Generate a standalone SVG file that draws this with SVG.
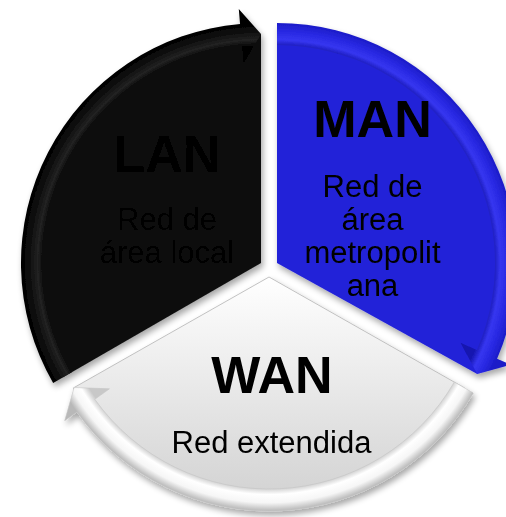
<svg xmlns="http://www.w3.org/2000/svg" width="506" height="517" viewBox="0 0 506 517">
<style>
.t{font-family:"Liberation Sans",Arial,sans-serif;text-anchor:middle;fill:#000}
.h{font-size:52px;font-weight:bold}
.b{font-size:31px}
</style>
<defs>
<filter id="sh" x="-10%" y="-10%" width="120%" height="120%">
<feGaussianBlur in="SourceAlpha" stdDeviation="3"/>
<feOffset dx="2" dy="4" result="o"/>
<feComponentTransfer><feFuncA type="linear" slope="0.35"/></feComponentTransfer>
<feMerge><feMergeNode/><feMergeNode in="SourceGraphic"/></feMerge>
</filter>
<radialGradient id="bandL" gradientUnits="userSpaceOnUse" cx="261" cy="263" r="240">
<stop offset="0.9" stop-color="#000"/><stop offset="0.93" stop-color="#222"/><stop offset="0.965" stop-color="#0e0e0e"/><stop offset="1" stop-color="#000"/>
</radialGradient>
<radialGradient id="bandM" gradientUnits="userSpaceOnUse" cx="277" cy="263" r="240">
<stop offset="0.9" stop-color="#1616b0"/><stop offset="0.93" stop-color="#3636f0"/><stop offset="0.965" stop-color="#2828e2"/><stop offset="1" stop-color="#1c1cc8"/>
</radialGradient>
<radialGradient id="bandW" gradientUnits="userSpaceOnUse" cx="269" cy="275" r="236">
<stop offset="0.9" stop-color="#c8c8c8"/><stop offset="0.93" stop-color="#ffffff"/><stop offset="0.965" stop-color="#f6f6f6"/><stop offset="1" stop-color="#b8b8b8"/>
</radialGradient>
<linearGradient id="pieW" x1="0" y1="0" x2="0" y2="1">
<stop offset="0" stop-color="#ffffff"/><stop offset="1" stop-color="#d2d2d2"/>
</linearGradient>
</defs>
<g id="connectors"></g>
<g id="lan" filter="url(#sh)">
<path d="M261,263 L62.68,377.5 A229,229 0 0 1 261,34 Z" fill="#0e0e0e"/>
<path d="M53.15,383 A240,240 0 0 1 240.08,23.91 L238.77,8.97 L261,34 L243.57,63.76 L242,45.83 A218,218 0 0 0 72.21,372 Z" fill="url(#bandL)"/>
<text class="t h" x="167" y="172">LAN</text>
<text class="t b" x="167" y="230">Red de</text>
<text class="t b" x="167" y="263">área local</text>
</g>
<g id="man" filter="url(#sh)">
<path d="M277,263 L277,34 A229,229 0 0 1 477.29,374.02 Z" fill="#2222d8"/>
<path d="M277,23 A240,240 0 0 1 497.09,358.7 L510.85,364.68 L477.29,374.02 L460.41,342.75 L476.92,349.93 A218,218 0 0 0 277,45 Z" fill="url(#bandM)"/>
<text class="t h" x="372.5" y="137">MAN</text>
<text class="t b" x="372.5" y="197">Red de</text>
<text class="t b" x="372.5" y="230">área</text>
<text class="t b" x="372.5" y="263">metropolit</text>
<text class="t b" x="372.5" y="296">ana</text>
</g>
<g id="wan" filter="url(#sh)">
<path d="M269,277 L464.72,388 A226,226 0 0 1 73.28,388 Z" fill="url(#pieW)" stroke="#b4b4b4" stroke-width="0.8"/>
<path d="M473.38,393 A236,236 0 0 1 76.87,412.05 L64.66,420.76 L74.14,387.5 L109.43,388.82 L94.78,399.27 A214,214 0 0 0 454.33,382 Z" fill="url(#bandW)" stroke="#c4c4c4" stroke-width="0.6"/>
<text class="t h" x="272" y="393">WAN</text>
<text class="t b" x="271.5" y="453">Red extendida</text>
</g>
</svg>
